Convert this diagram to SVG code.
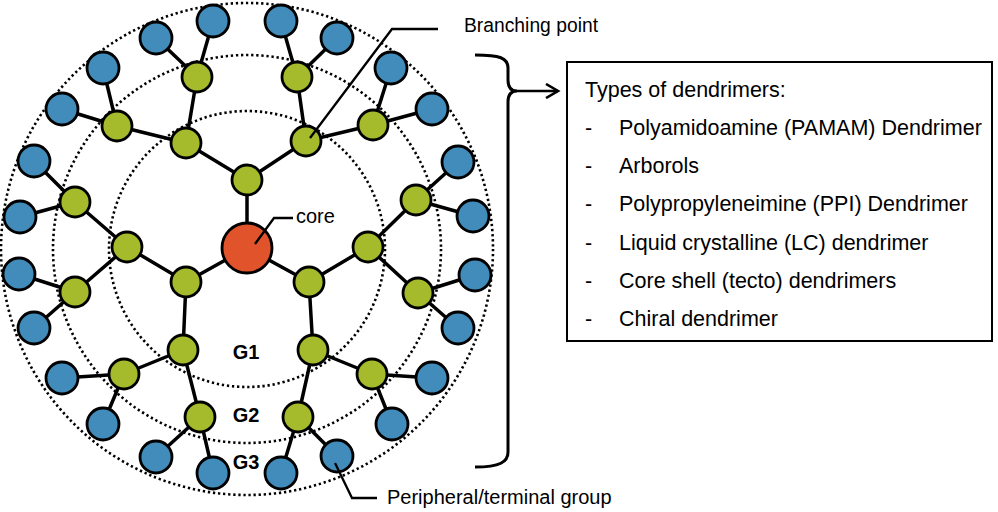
<svg xmlns="http://www.w3.org/2000/svg" width="998" height="512" viewBox="0 0 998 512">
<style>
.ring{fill:none;stroke:#000;stroke-width:2.6;stroke-dasharray:2.3 2.8}
.e{stroke:#000;stroke-width:3.5;stroke-linecap:round}
.g{fill:#a6bb2b;stroke:#000;stroke-width:2.8}
.b{fill:#418cba;stroke:#000;stroke-width:2.8}
.c{fill:#e1532a;stroke:#000;stroke-width:2.8}
.ld{fill:none;stroke:#000;stroke-width:2.3}
.t{font-family:"Liberation Sans",Arial,sans-serif;font-size:20px;fill:#000}
.lt{font-family:"Liberation Sans",Arial,sans-serif;font-size:21.5px;fill:#000}
.gl{font-family:"Liberation Sans",Arial,sans-serif;font-size:20px;font-weight:bold;fill:#000;text-anchor:middle}
</style>
<defs>
<marker id="chev" markerWidth="16" markerHeight="16" refX="13" refY="8" orient="auto" markerUnits="userSpaceOnUse">
<path d="M1,1 L13,8 L1,15" fill="none" stroke="#000" stroke-width="2.6"/>
</marker>
</defs>
<rect width="998" height="512" fill="#fff"/>
<g id="rings">
<circle class="ring" cx="247" cy="249" r="138"/>
<circle class="ring" cx="247" cy="249" r="194"/>
<circle class="ring" cx="247" cy="249" r="246"/>
</g>
<g id="connectors">
<line class="e" x1="247" y1="248" x2="247" y2="180"/>
<line class="e" x1="247" y1="248" x2="186" y2="282"/>
<line class="e" x1="247" y1="248" x2="309" y2="282"/>
<line class="e" x1="247" y1="180" x2="186" y2="143"/>
<line class="e" x1="247" y1="180" x2="306" y2="141"/>
<line class="e" x1="186" y1="282" x2="127" y2="247"/>
<line class="e" x1="186" y1="282" x2="183" y2="350"/>
<line class="e" x1="309" y1="282" x2="368" y2="247"/>
<line class="e" x1="309" y1="282" x2="313" y2="350"/>
<line class="e" x1="186" y1="143" x2="197" y2="77"/>
<line class="e" x1="186" y1="143" x2="117" y2="126"/>
<line class="e" x1="306" y1="141" x2="297" y2="77"/>
<line class="e" x1="306" y1="141" x2="373" y2="125"/>
<line class="e" x1="127" y1="247" x2="75" y2="202"/>
<line class="e" x1="127" y1="247" x2="75" y2="292"/>
<line class="e" x1="368" y1="247" x2="416" y2="200"/>
<line class="e" x1="368" y1="247" x2="418" y2="293"/>
<line class="e" x1="183" y1="350" x2="124" y2="374"/>
<line class="e" x1="183" y1="350" x2="200" y2="417"/>
<line class="e" x1="313" y1="350" x2="372" y2="374"/>
<line class="e" x1="313" y1="350" x2="298" y2="417"/>
<line class="e" x1="197" y1="77" x2="213" y2="21"/>
<line class="e" x1="197" y1="77" x2="156" y2="38"/>
<line class="e" x1="117" y1="126" x2="103" y2="68"/>
<line class="e" x1="117" y1="126" x2="62" y2="109"/>
<line class="e" x1="297" y1="77" x2="281" y2="21"/>
<line class="e" x1="297" y1="77" x2="337" y2="38"/>
<line class="e" x1="373" y1="125" x2="391" y2="68"/>
<line class="e" x1="373" y1="125" x2="432" y2="109"/>
<line class="e" x1="75" y1="202" x2="34" y2="161"/>
<line class="e" x1="75" y1="202" x2="20" y2="217"/>
<line class="e" x1="75" y1="292" x2="19" y2="274"/>
<line class="e" x1="75" y1="292" x2="34" y2="328"/>
<line class="e" x1="416" y1="200" x2="458" y2="162"/>
<line class="e" x1="416" y1="200" x2="473" y2="216"/>
<line class="e" x1="418" y1="293" x2="475" y2="275"/>
<line class="e" x1="418" y1="293" x2="458" y2="328"/>
<line class="e" x1="124" y1="374" x2="62" y2="378"/>
<line class="e" x1="124" y1="374" x2="103" y2="424"/>
<line class="e" x1="200" y1="417" x2="156" y2="457"/>
<line class="e" x1="200" y1="417" x2="213" y2="473"/>
<line class="e" x1="372" y1="374" x2="432" y2="378"/>
<line class="e" x1="372" y1="374" x2="392" y2="424"/>
<line class="e" x1="298" y1="417" x2="281" y2="473"/>
<line class="e" x1="298" y1="417" x2="337" y2="456"/>
</g>
<g id="nodes">
<g id="core"><circle class="c" cx="247" cy="248" r="25"/></g>
<g id="g1-top"><circle class="g" cx="247" cy="180" r="15"/></g>
<g id="g1-left"><circle class="g" cx="186" cy="282" r="15"/></g>
<g id="g1-right"><circle class="g" cx="309" cy="282" r="15"/></g>
<g id="g2-1"><circle class="g" cx="186" cy="143" r="15"/></g>
<g id="g2-2"><circle class="g" cx="306" cy="141" r="15"/></g>
<g id="g2-3"><circle class="g" cx="127" cy="247" r="15"/></g>
<g id="g2-4"><circle class="g" cx="368" cy="247" r="15"/></g>
<g id="g2-5"><circle class="g" cx="183" cy="350" r="15"/></g>
<g id="g2-6"><circle class="g" cx="313" cy="350" r="15"/></g>
<g id="g3-1"><circle class="g" cx="197" cy="77" r="15"/></g>
<g id="g3-2"><circle class="g" cx="117" cy="126" r="15"/></g>
<g id="g3-3"><circle class="g" cx="297" cy="77" r="15"/></g>
<g id="g3-4"><circle class="g" cx="373" cy="125" r="15"/></g>
<g id="g3-5"><circle class="g" cx="75" cy="202" r="15"/></g>
<g id="g3-6"><circle class="g" cx="75" cy="292" r="15"/></g>
<g id="g3-7"><circle class="g" cx="416" cy="200" r="15"/></g>
<g id="g3-8"><circle class="g" cx="418" cy="293" r="15"/></g>
<g id="g3-9"><circle class="g" cx="124" cy="374" r="15"/></g>
<g id="g3-10"><circle class="g" cx="200" cy="417" r="15"/></g>
<g id="g3-11"><circle class="g" cx="372" cy="374" r="15"/></g>
<g id="g3-12"><circle class="g" cx="298" cy="417" r="15"/></g>
<g id="t1"><circle class="b" cx="213" cy="21" r="16"/></g>
<g id="t2"><circle class="b" cx="156" cy="38" r="16"/></g>
<g id="t3"><circle class="b" cx="103" cy="68" r="16"/></g>
<g id="t4"><circle class="b" cx="62" cy="109" r="16"/></g>
<g id="t5"><circle class="b" cx="281" cy="21" r="16"/></g>
<g id="t6"><circle class="b" cx="337" cy="38" r="16"/></g>
<g id="t7"><circle class="b" cx="391" cy="68" r="16"/></g>
<g id="t8"><circle class="b" cx="432" cy="109" r="16"/></g>
<g id="t9"><circle class="b" cx="34" cy="161" r="16"/></g>
<g id="t10"><circle class="b" cx="20" cy="217" r="16"/></g>
<g id="t11"><circle class="b" cx="19" cy="274" r="16"/></g>
<g id="t12"><circle class="b" cx="34" cy="328" r="16"/></g>
<g id="t13"><circle class="b" cx="458" cy="162" r="16"/></g>
<g id="t14"><circle class="b" cx="473" cy="216" r="16"/></g>
<g id="t15"><circle class="b" cx="475" cy="275" r="16"/></g>
<g id="t16"><circle class="b" cx="458" cy="328" r="16"/></g>
<g id="t17"><circle class="b" cx="62" cy="378" r="16"/></g>
<g id="t18"><circle class="b" cx="103" cy="424" r="16"/></g>
<g id="t19"><circle class="b" cx="156" cy="457" r="16"/></g>
<g id="t20"><circle class="b" cx="213" cy="473" r="16"/></g>
<g id="t21"><circle class="b" cx="432" cy="378" r="16"/></g>
<g id="t22"><circle class="b" cx="392" cy="424" r="16"/></g>
<g id="t23"><circle class="b" cx="337" cy="456" r="16"/></g>
<g id="t24"><circle class="b" cx="281" cy="473" r="16"/></g>
</g>
<g id="generation-labels">
<text class="gl" x="246" y="359">G1</text>
<text class="gl" x="246" y="422">G2</text>
<text class="gl" x="246" y="469">G3</text>
</g>
<g id="core-label">
<polyline class="ld" points="255,244 274,218 293,218"/>
<text class="t" x="296" y="223" font-size="20.5">core</text>
</g>
<g id="branching-label">
<polyline class="ld" points="310,138 392,29 438,29"/>
<text class="t" x="464" y="32" style="font-size:19.3px">Branching point</text>
</g>
<g id="peripheral-label">
<polyline class="ld" points="335,463 352,498 377,498"/>
<text class="t" x="387" y="504">Peripheral/terminal group</text>
</g>
<g id="brace">
<path d="M475,55 C500,55 508,58 508,68 L508,80 C508,88 512,91 517,91 C512,91 508,94 508,102 L508,452 C508,462 500,467 475,467" fill="none" stroke="#000" stroke-width="3"/>
<line x1="517" y1="91" x2="558" y2="91" stroke="#000" stroke-width="2.6" marker-end="url(#chev)"/>
</g>
<g id="types-box">
<rect x="567" y="62" width="425" height="279" fill="#fff" stroke="#000" stroke-width="2"/>
<text class="lt" x="585" y="97">Types of dendrimers:</text>
<text class="lt" x="585" y="135">-</text><text class="lt" x="619" y="135">Polyamidoamine (PAMAM) Dendrimer</text>
<text class="lt" x="585" y="173">-</text><text class="lt" x="619" y="173">Arborols</text>
<text class="lt" x="585" y="211">-</text><text class="lt" x="619" y="211">Polypropyleneimine (PPI) Dendrimer</text>
<text class="lt" x="585" y="250">-</text><text class="lt" x="619" y="250">Liquid crystalline (LC) dendrimer</text>
<text class="lt" x="585" y="288">-</text><text class="lt" x="619" y="288">Core shell (tecto) dendrimers</text>
<text class="lt" x="585" y="326">-</text><text class="lt" x="619" y="326">Chiral dendrimer</text>
</g>
</svg>
